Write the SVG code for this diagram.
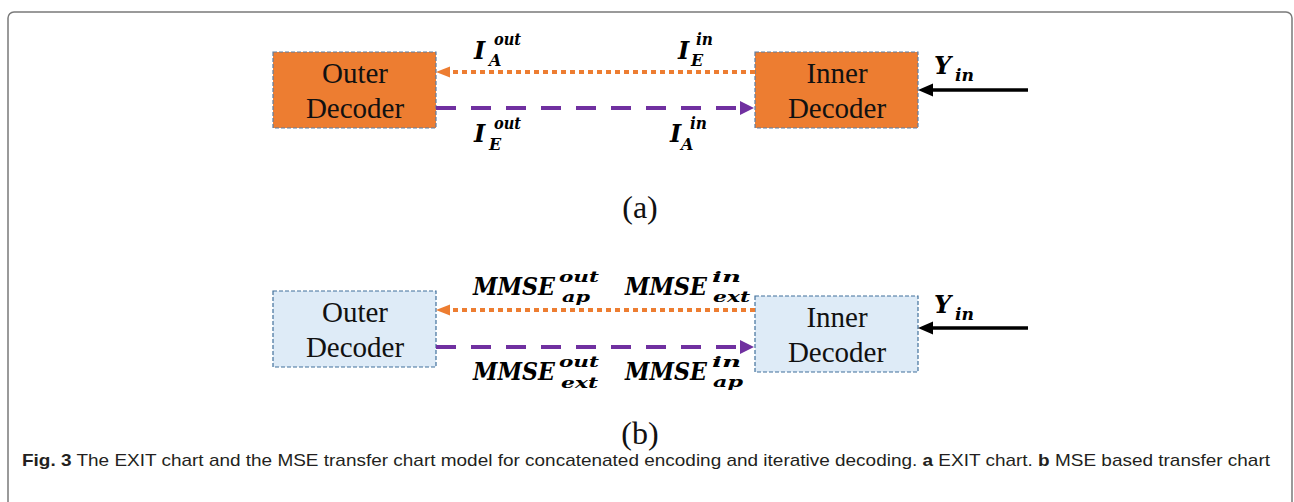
<svg xmlns="http://www.w3.org/2000/svg" width="1294" height="502" viewBox="0 0 1294 502">
<defs>
<style>
.frame{fill:#fff;stroke:#7a7a7a;stroke-width:1.5}
.boxA{fill:#ED7D31;stroke:#5B7FA6;stroke-width:1.2;stroke-dasharray:4 2}
.boxB{fill:#DEEBF7;stroke:#41719C;stroke-width:1.2;stroke-dasharray:4 2}
.lbl{font-family:"Liberation Serif","Times New Roman",serif;font-size:29px;fill:#111;text-anchor:middle}
.m{font-family:"DejaVu Serif",serif;font-weight:bold;font-style:italic;fill:#000}
.big{font-size:24px}
.sm{font-size:16px}
.xs{font-size:15px}
.dot{stroke:#ED7D31;stroke-width:4;stroke-dasharray:5 4;fill:none}
.dash{stroke:#7030A0;stroke-width:4;stroke-dasharray:20 15;fill:none}
.blk{stroke:#000;stroke-width:3.5;fill:none}
.cap{font-family:"Liberation Sans",sans-serif;font-size:17px;fill:#231f20}
.sub{font-family:"Liberation Serif","Times New Roman",serif;font-size:32px;fill:#111;text-anchor:middle}
</style>
</defs>
<rect class="frame" x="8" y="12" width="1284" height="520" rx="6"/>

<g id="outerA">
<rect class="boxA" x="273" y="52" width="163" height="76"/>
<text class="lbl" x="355" y="83">Outer</text>
<text class="lbl" x="355" y="118">Decoder</text>
</g>
<g id="innerA">
<rect class="boxA" x="755" y="52" width="163" height="76"/>
<text class="lbl" x="837" y="83">Inner</text>
<text class="lbl" x="837" y="118">Decoder</text>
</g>

<g id="outerB">
<rect class="boxB" x="273" y="291" width="163" height="76"/>
<text class="lbl" x="355" y="322">Outer</text>
<text class="lbl" x="355" y="357">Decoder</text>
</g>
<g id="innerB">
<rect class="boxB" x="755" y="296" width="163" height="76"/>
<text class="lbl" x="837" y="327">Inner</text>
<text class="lbl" x="837" y="362">Decoder</text>
</g>

<g id="connectors">
<line class="dot" x1="755" y1="72" x2="449" y2="72"/>
<polygon points="436,72 450,66.5 450,77.5" fill="#ED7D31"/>
<line class="dash" x1="436" y1="108" x2="741" y2="108"/>
<polygon points="754,108 740,101 740,115" fill="#7030A0"/>
<line class="blk" x1="1028" y1="90" x2="931" y2="90"/>
<polygon points="918,90 933,83.5 933,96.5" fill="#000"/>

<line class="dot" x1="755" y1="310" x2="449" y2="310"/>
<polygon points="436,310 450,304.5 450,315.5" fill="#ED7D31"/>
<line class="dash" x1="436" y1="347" x2="741" y2="347"/>
<polygon points="754,347 740,340 740,354" fill="#7030A0"/>
<line class="blk" x1="1028" y1="328" x2="931" y2="328"/>
<polygon points="918,328 933,321.5 933,334.5" fill="#000"/>
</g>

<g id="labelsA">
<text class="m big" x="474" y="59">I</text><text class="m sm" x="494" y="45" textLength="27" lengthAdjust="spacingAndGlyphs">out</text><text class="m sm" x="489" y="66">A</text>
<text class="m big" x="678" y="59">I</text><text class="m sm" x="696" y="45" textLength="17" lengthAdjust="spacingAndGlyphs">in</text><text class="m sm" x="691" y="66">E</text>
<text class="m big" x="474" y="142">I</text><text class="m sm" x="494" y="129" textLength="27" lengthAdjust="spacingAndGlyphs">out</text><text class="m sm" x="489" y="150">E</text>
<text class="m big" x="670" y="142">I</text><text class="m sm" x="690" y="129" textLength="17" lengthAdjust="spacingAndGlyphs">in</text><text class="m sm" x="681" y="150">A</text>
<text class="m big" x="934" y="74">Y</text><text class="m sm" x="955" y="81" textLength="19" lengthAdjust="spacingAndGlyphs">in</text>
</g>

<g id="labelsB">
<text class="m big" x="473" y="295" textLength="82" lengthAdjust="spacingAndGlyphs">MMSE</text><text class="m xs" x="559" y="282" textLength="40" lengthAdjust="spacingAndGlyphs">out</text><text class="m xs" x="562" y="302" textLength="28" lengthAdjust="spacingAndGlyphs">ap</text>
<text class="m big" x="625" y="295" textLength="82" lengthAdjust="spacingAndGlyphs">MMSE</text><text class="m xs" x="712" y="282" textLength="29" lengthAdjust="spacingAndGlyphs">in</text><text class="m xs" x="713" y="302" textLength="37" lengthAdjust="spacingAndGlyphs">ext</text>
<text class="m big" x="473" y="380" textLength="82" lengthAdjust="spacingAndGlyphs">MMSE</text><text class="m xs" x="559" y="367" textLength="40" lengthAdjust="spacingAndGlyphs">out</text><text class="m xs" x="561" y="388" textLength="37" lengthAdjust="spacingAndGlyphs">ext</text>
<text class="m big" x="625" y="380" textLength="82" lengthAdjust="spacingAndGlyphs">MMSE</text><text class="m xs" x="712" y="367" textLength="29" lengthAdjust="spacingAndGlyphs">in</text><text class="m xs" x="713" y="387" textLength="30" lengthAdjust="spacingAndGlyphs">ap</text>
<text class="m big" x="934" y="313">Y</text><text class="m sm" x="955" y="320" textLength="19" lengthAdjust="spacingAndGlyphs">in</text>
</g>

<text class="sub" x="640" y="218">(a)</text>
<text class="sub" x="640" y="444">(b)</text>

<text class="cap" x="22" y="466" textLength="1248" lengthAdjust="spacingAndGlyphs"><tspan font-weight="bold">Fig. 3</tspan> The EXIT chart and the MSE transfer chart model for concatenated encoding and iterative decoding. <tspan font-weight="bold">a</tspan> EXIT chart. <tspan font-weight="bold">b</tspan> MSE based transfer chart</text>
</svg>
